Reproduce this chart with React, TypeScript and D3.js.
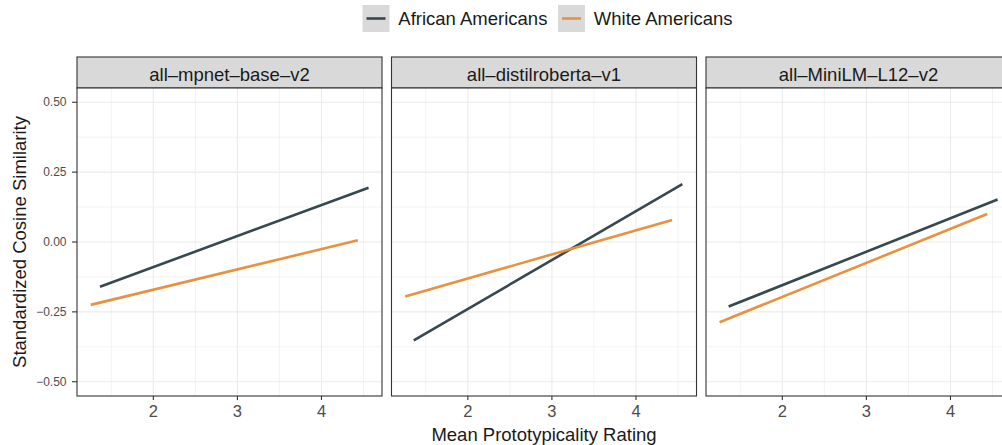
import React from "react";
import * as d3 from "d3";

const models = ["all\u2013mpnet\u2013base\u2013v2", "all\u2013distilroberta\u2013v1", "all\u2013MiniLM\u2013L12\u2013v2"];
const groups = ["African Americans", "White Americans"];
const groupColors = ["#37484F", "#E8913F"];
const africanX = [[1.365, 4.56], [1.357, 4.552], [1.361, 4.56]];
const africanY = [[-0.16, 0.194], [-0.352, 0.207], [-0.231, 0.152]];
const whiteX = [[1.255, 4.433], [1.255, 4.43], [1.254, 4.436]];
const whiteY = [[-0.225, 0.006], [-0.195, 0.079], [-0.287, 0.1]];
const xTicks = [2, 3, 4];
const xMinor = [1.5, 2.5, 3.5, 4.5];
const yTicks = [-0.5, -0.25, 0, 0.25, 0.5];
const yMinor = [-0.375, -0.125, 0.125, 0.375];
const yTickLabels = ["\u22120.50", "\u22120.25", "0.00", "0.25", "0.50"];

const FONT = "'Liberation Sans', Arial, sans-serif";

export default function App() {
  const W = 1002, H = 445;
  const left0 = 77, panelW = 305, gap = 9.5;
  const stripTop = 57, stripH = 31;
  const panelTop = stripTop + stripH, panelBottom = 396;
  const panelH = panelBottom - panelTop;
  const x = d3.scaleLinear().domain([1.092, 4.72]).range([0, panelW]);
  const y = d3.scaleLinear().domain([-0.551, 0.551]).range([panelH, 0]);
  const line = d3.line<[number, number]>().x(d => x(d[0])).y(d => y(d[1]));
  const series = [
    { xs: africanX, ys: africanY },
    { xs: whiteX, ys: whiteY },
  ];
  const totalRight = left0 + 3 * panelW + 2 * gap;
  const legendKeys = [362.5, 558];
  return (
    <div style={{ position: "absolute", left: 0, top: 0 }}>
      <svg width={W} height={H} style={{ display: "block", background: "#fff" }} fontFamily={FONT}>
        {groups.map((g, i) => (
          <g key={g} transform={`translate(${legendKeys[i]},5)`}>
            <rect width={27} height={27} fill="#d9d9d9" />
            <line x1={4} x2={23} y1={13.5} y2={13.5} stroke={groupColors[i]} strokeWidth={2.6} />
            <text x={35.8} y={20} fontSize={18.5} fill="#1a1a1a">{g}</text>
          </g>
        ))}
        {models.map((m, p) => {
          const px = left0 + p * (panelW + gap);
          return (
            <g key={m} transform={`translate(${px},0)`}>
              <rect x={0} y={stripTop} width={panelW} height={stripH} fill="#d9d9d9" stroke="#333" strokeWidth={1.1} />
              <text x={panelW / 2} y={stripTop + 23.7} textAnchor="middle" fontSize={18.5} fill="#1a1a1a">{m}</text>
              <g transform={`translate(0,${panelTop})`}>
                <rect width={panelW} height={panelH} fill="#fff" />
                {xMinor.map(v => <line key={"xm" + v} x1={x(v)} x2={x(v)} y1={0} y2={panelH} stroke="#ebebeb" strokeWidth={0.6} />)}
                {yMinor.map(v => <line key={"ym" + v} x1={0} x2={panelW} y1={y(v)} y2={y(v)} stroke="#ebebeb" strokeWidth={0.6} />)}
                {xTicks.map(v => <line key={"xM" + v} x1={x(v)} x2={x(v)} y1={0} y2={panelH} stroke="#ebebeb" strokeWidth={1.1} />)}
                {yTicks.map(v => <line key={"yM" + v} x1={0} x2={panelW} y1={y(v)} y2={y(v)} stroke="#ebebeb" strokeWidth={1.1} />)}
                {series.map((s, i) => (
                  <path key={i} d={line([[s.xs[p][0], s.ys[p][0]], [s.xs[p][1], s.ys[p][1]]]) || ""} stroke={groupColors[i]} strokeWidth={2.6} fill="none" />
                ))}
                <rect width={panelW} height={panelH} fill="none" stroke="#333" strokeWidth={1.1} />
                {xTicks.map(v => (
                  <g key={"xt" + v} transform={`translate(${x(v)},${panelH})`}>
                    <line y1={0} y2={4} stroke="#333" strokeWidth={1.1} />
                    <text y={21} textAnchor="middle" fontSize={16.5} fill="#4d4d4d">{v}</text>
                  </g>
                ))}
                {p === 0 && yTicks.map((v, k) => (
                  <g key={"yt" + v} transform={`translate(0,${y(v)})`}>
                    <line x1={-5} x2={0} stroke="#333" strokeWidth={1.1} />
                    <text x={-10.5} y={4.2} textAnchor="end" fontSize={12} fill="#4d4d4d">{yTickLabels[k]}</text>
                  </g>
                ))}
              </g>
            </g>
          );
        })}
        <text transform={`translate(25.5,${panelTop + panelH / 2}) rotate(-90)`} textAnchor="middle" fontSize={18.5} fill="#1a1a1a">Standardized Cosine Similarity</text>
        <text x={(left0 + totalRight) / 2} y={440.5} textAnchor="middle" fontSize={18.5} fill="#1a1a1a">Mean Prototypicality Rating</text>
      </svg>
    </div>
  );
}
